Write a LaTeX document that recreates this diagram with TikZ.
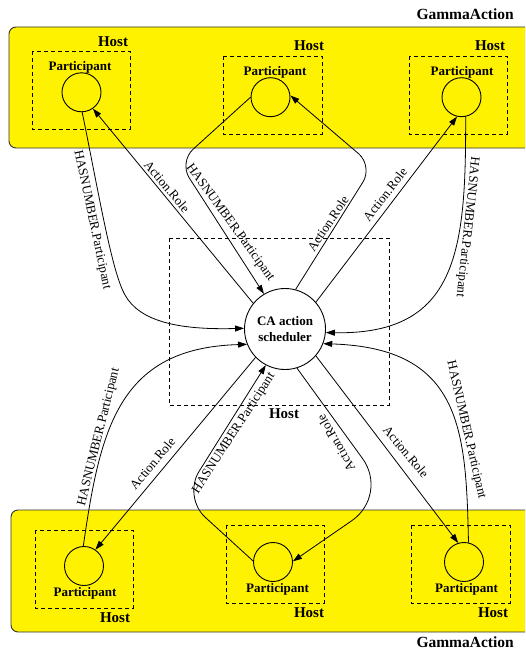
\documentclass[tikz,border=0pt]{standalone}
\usepackage{fontspec}
\setmainfont{Liberation Serif}
\usetikzlibrary{arrows.meta}
\tikzset{
  gbox/.style={fill=yellow, draw=black!80, line width=0.9pt, rounded corners=7pt},
  hostbox/.style={draw, dash pattern=on 4pt off 3pt, line width=0.9pt},
  part/.style={circle, draw, minimum size=39pt, inner sep=0pt, line width=0.9pt},
  sched/.style={circle, draw, minimum size=81pt, inner sep=0pt, line width=0.9pt, align=center,
    font=\fontsize{13}{16}\selectfont\bfseries},
  ptxt/.style={inner sep=0pt, font=\fontsize{13}{15}\selectfont\bfseries},
  htxt/.style={inner sep=0pt, font=\fontsize{15}{17}\selectfont\bfseries},
  gtxt/.style={inner sep=0pt, font=\fontsize{15.5}{18}\selectfont\bfseries},
  elbl/.style={inner sep=0pt, font=\fontsize{13}{15}\selectfont},
  edge/.style={line width=0.8pt, -{Triangle[length=9pt,width=6pt]}}
}
\begin{document}
\begin{tikzpicture}[x=1pt,y=-1pt]
\useasboundingbox (0,0) rectangle (525,650);
\clip (0,0) rectangle (525,650);

% GammaAction regions
\draw[gbox] (9,27) rectangle (545,148);
\draw[gbox] (11,510) rectangle (545,632);
\node[gtxt, anchor=base east] (g1) at (514,19.5) {GammaAction};
\node[gtxt, anchor=base east] (g2) at (514,647) {GammaAction};

% top hosts
\draw[hostbox] (32,51) rectangle (130,129);
\draw[hostbox] (223,56) rectangle (322,134);
\draw[hostbox] (409,56) rectangle (507,134);
\node[htxt] (h1) at (113,41.5) {Host};
\node[htxt] (h2) at (309,46) {Host};
\node[htxt] (h3) at (490,46) {Host};
\node[ptxt] (t1) at (80,67.7) {Participant};
\node[ptxt] (t2) at (275,72) {Participant};
\node[ptxt] (t3) at (462,72) {Participant};
\node[part] (P1) at (81.5,92.3) {};
\node[part] (P2) at (270.5,97.2) {};
\node[part] (P3) at (461.5,97.2) {};

% bottom hosts
\draw[hostbox] (35,530) rectangle (133,608);
\draw[hostbox] (226,525) rectangle (324,603);
\draw[hostbox] (411,525) rectangle (510,603);
\node[htxt] (h4) at (115,618) {Host};
\node[htxt] (h5) at (309,613) {Host};
\node[htxt] (h6) at (493,613) {Host};
\node[ptxt] (t4) at (85,593.5) {Participant};
\node[ptxt] (t5) at (277.5,589) {Participant};
\node[ptxt] (t6) at (466.5,589) {Participant};
\node[part] (Q1) at (84,566) {};
\node[part] (Q2) at (273,562) {};
\node[part] (Q3) at (464,562) {};

% central host
\draw[hostbox] (169,238) rectangle (389,405);
\node[htxt] (h7) at (284,414) {Host};
\node[sched] (S) at (285,329) {CA action\\scheduler};

% connectors top
\draw[edge] (P1.272) .. controls (100,200) and (112,272) .. (125,295)
            .. controls (140,322) and (180,330) .. (S.179);
\draw[edge] (S.141) -- (P1.305);
\draw[edge, rounded corners=19pt] (P2.180) -- (179,162) -- (S.121);
\draw[edge, rounded corners=19pt] (S.75) -- (373,166) -- (P2.5);
\draw[edge] (S.41) -- (P3.257);
\draw[edge] (P3.282) .. controls (466,250) and (458,335) .. (S.-5);

% connectors bottom
\draw[edge] (Q1.92) .. controls (100,430) and (118,348) .. (S.202);
\draw[edge] (S.224) -- (Q1.55);
\draw[edge, rounded corners=30pt] (Q2.177) -- (183,497) -- (S.242);
\draw[edge, rounded corners=45pt] (S.287) -- (389,495) -- (Q2.2);
\draw[edge] (S.319) -- (Q3.107);
\draw[edge] (Q3.77) .. controls (466,430) and (462,348) .. (S.-21);

% connector labels
\node[elbl, rotate=-78] (l1) at (92,220) {HASNUMBER.Participant};
\node[elbl, rotate=-50] (l2) at (167,186.5) {Action.Role};
\node[elbl, rotate=-54] (l3) at (230,222.5) {HASNUMBER.Participant};
\node[elbl, rotate=56] (l4) at (328,223.5) {Action.Role};
\node[elbl, rotate=52] (l5) at (385,194.5) {Action.Role};
\node[elbl, rotate=-96] (l6) at (467,227) {HASNUMBER.Participant};
\node[elbl, rotate=76] (l7) at (99,437) {HASNUMBER.Participant};
\node[elbl, rotate=50] (l8) at (152.5,463.5) {Action.Role};
\node[elbl, rotate=57] (l9) at (234,433.5) {HASNUMBER.Participant};
\node[elbl, rotate=120] (l10) at (336,443) {Action.Role};
\node[elbl, rotate=-50] (l11) at (406,452) {Action.Role};
\node[elbl, rotate=-77] (l12) at (466,430) {HASNUMBER.Participant};
\end{tikzpicture}
\end{document}
